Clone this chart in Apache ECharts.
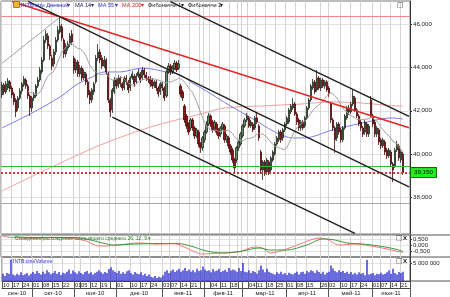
<!DOCTYPE html>
<html>
<head>
<meta charset="utf-8">
<script src="https://cdn.jsdelivr.net/npm/echarts@6.0.0/dist/echarts.min.js"></script>
<style>
html,body{margin:0;padding:0;background:#fff;}
#chart{width:450px;height:297px;}
</style>
</head>
<body>
<div id="chart"></div>
<script>
// ---------- values ----------
const opens = [
42730,43190,42870,43050,43330,43050,42770,42500,42130,42590,
42910,43190,43420,43140,42680,42130,42590,42680,43140,43420,
43790,44340,45260,45450,44990,44430,44160,44710,45260,45630,
45860,45260,44620,44890,45080,45540,44430,43880,44250,43700,
43970,43510,43700,43330,42870,42500,42870,43330,44430,44710,
44430,44060,44340,43700,42500,42040,42870,43420,43140,43510,
43240,43050,43510,43330,43050,43510,43600,43330,43600,43700,
43510,43880,43650,43510,43510,43420,43140,43330,43050,42870,
43240,43050,42680,43790,44060,43790,43970,44200,43970,43140,
42870,42220,41760,41390,41210,41580,41210,40840,41020,40470,
40290,40660,41020,41390,41760,41480,41210,41390,41120,40930,
41210,41300,40660,40750,40380,40190,39730,39730,40290,40470,
40840,41300,41580,41670,41300,41390,41210,41670,41300,40100,
39270,39640,39180,39640,39270,39730,40010,40470,40660,41020,
40750,41120,41390,41480,41950,42130,42310,41850,41580,41210,
41480,41300,41670,42130,42500,43050,43330,42960,43510,43050,
43420,43140,43330,43050,42310,41580,41210,40750,41390,41120,
40660,41210,41670,42130,41950,42310,42590,42040,41760,41480,
41210,41020,41390,40930,42500,41760,41480,40930,41120,40660,
40380,40560,40190,39920,40100,39550,39460,40190,40380,39730,
40010];
const closes = [
43190,42870,43240,43370,43010,42730,42410,41950,42590,42910,
43240,43470,43140,42680,42130,42590,42730,43140,43420,43880,
44340,45260,45540,44990,44530,44060,44710,45260,45720,45910,
45350,44620,44990,45080,45450,45170,43880,44250,43700,43970,
43510,43790,43330,42730,42500,42960,43240,44430,44710,44340,
44060,44340,43790,42500,41950,42960,43420,43140,43510,43240,
43050,43510,43330,42960,43510,43700,43240,43600,43790,43420,
43880,43650,43510,43420,43240,43140,43330,43050,42770,43240,
43050,42590,43790,44060,43790,43970,44200,43880,44160,42770,
42590,41580,41300,41020,41580,41210,40840,41120,40470,40290,
40750,41020,41390,41760,41390,41120,41480,41020,40840,41210,
41390,40660,40840,40380,40100,39730,39370,40290,40560,40930,
41300,41580,41760,41300,41480,41120,41670,41480,40750,39270,
39640,39180,39730,39180,39830,40100,40470,40750,41020,40660,
41120,41390,41670,42040,42220,42310,41850,41480,41210,41480,
41210,41670,42130,42500,43140,43330,42870,43510,43050,43420,
43140,43330,42960,42770,41580,41210,40660,41390,41020,40660,
41210,41760,42130,41950,42310,42680,42040,41760,41390,41210,
40930,41480,40930,41300,41760,41390,40930,41210,40560,40380,
40660,40100,39920,40190,39550,39270,40190,40470,39830,40100,
39150];
const lows = [
42590,42730,42770,42960,42870,42590,42270,41710,41990,42500,
42770,43100,43010,42540,41760,41950,42450,42590,43050,43330,
43700,44250,45120,44850,44340,43880,44020,44570,45170,45540,
45220,44430,44480,44760,44940,45030,43700,43740,43560,43560,
43370,43420,43190,42590,42310,42360,42730,43240,44300,44200,
43930,43970,43650,42360,41710,41900,42770,43010,43050,43100,
42910,42960,43190,42820,42910,43420,43100,43240,43510,43280,
43420,43510,43370,43280,43100,43010,43050,42910,42640,42730,
42910,42450,42590,43700,43650,43700,43880,43790,43880,42640,
42450,41440,41160,40890,41070,41070,40700,40750,40330,40060,
40150,40520,40930,41300,41250,40980,41070,40890,40700,40790,
41120,40520,40520,40240,39960,39600,39130,39600,40150,40380,
40750,41210,41480,41210,41210,41020,41120,41390,40610,39090,
38810,39000,39040,39040,39130,39640,39920,40380,40560,40520,
40610,41020,41300,41390,41850,42040,41760,41350,41070,41070,
41120,41210,41580,42040,42410,42960,42770,42870,42960,42910,
43050,43010,42870,42640,41440,41070,40060,40610,40890,40520,
40560,41120,41580,41810,41850,42220,41950,41670,41300,41070,
40790,40890,40790,40790,41670,41250,40790,40790,40420,40240,
40290,39960,39780,39830,39410,38720,39370,40100,39690,39600,
39040];
const highs = [
43330,43280,43370,43510,43420,43140,42870,42590,42680,43050,
43330,43600,43510,43240,42770,42680,42870,43240,43560,44020,
44480,45450,45720,45590,45080,44570,44850,45400,45910,46320,
46000,45350,45120,45220,45590,45720,44530,44390,44340,44110,
44060,43930,43790,43420,42960,43050,43330,44570,45080,44850,
44570,44530,44430,43790,42590,43050,43560,43510,43650,43600,
43330,43600,43650,43420,43600,43830,43700,43740,43930,43790,
44020,43970,43790,43600,43600,43510,43420,43420,43140,43330,
43330,43140,43880,44200,44160,44110,44340,44300,44340,43240,
42960,42310,41850,41480,41670,41670,41300,41210,41120,40560,
40840,41120,41530,41900,41850,41580,41580,41480,41210,41300,
41480,41390,40930,40840,40470,40290,39830,40380,40660,41020,
41390,41670,41900,41760,41580,41480,41760,41950,41390,40190,
39730,39730,39830,39730,39920,40190,40560,40840,41120,41120,
41210,41480,41760,42130,42310,42590,42410,41950,41670,41580,
41580,41760,42220,42590,43240,43470,43420,43880,43600,43510,
43510,43420,43420,43140,42410,41670,41300,41480,41480,41210,
41300,41850,42220,42270,42410,42960,42680,42130,41850,41580,
41300,41580,41480,41390,42680,41850,41580,41300,41210,40750,
40750,40660,40290,40290,40190,39640,40290,40610,40470,40190,
40100];
// volume, millions
const volumes = [
2.0,1.4,2.2,2.0,6.0,1.8,1.5,2.0,1.7,2.4,1.6,1.9,2.2,1.5,2.0,
2.5,2.0,2.8,2.2,1.8,2.6,2.0,3.0,2.4,1.9,2.2,2.8,2.0,2.5,1.7,2.3,
2.1,2.6,3.2,2.0,2.9,2.4,2.0,2.7,2.2,1.9,2.5,2.8,2.1,2.4,1.8,2.2,2.6,3.0,2.4,2.0,
2.5,2.2,3.3,3.8,3.0,2.6,2.2,2.8,2.0,2.4,
2.0,2.7,3.0,2.2,1.8,2.5,2.1,1.9,2.4,1.6,2.0,1.4,1.8,1.2,1.0,
1.4,0.8,1.2,1.0,1.6,
2.6,3.0,2.2,2.8,3.2,2.5,2.9,3.4,2.6,3.0,3.6,2.8,3.2,2.6,3.0,2.4,3.4,2.8,3.0,4.0,
3.2,2.8,3.0,2.4,3.3,2.7,2.9,3.4,2.5,2.8,3.1,2.6,3.6,2.9,3.2,
3.0,2.6,3.6,2.8,5.0,2.6,2.4,3.0,2.2,2.8,2.5,2.0,3.0,4.3,3.2,
2.4,3.4,2.6,2.2,2.0,1.8,2.4,2.0,2.6,1.9,2.2,1.7,2.3,2.0,1.8,
2.2,2.6,1.8,2.4,2.6,2.0,2.8,2.4,3.0,2.7,2.2,3.0,2.5,2.0,2.6,
1.8,2.3,2.6,4.3,3.5,2.8,2.4,3.0,2.5,2.8,2.2,2.6,2.0,2.5,1.9,
2.2,1.8,2.4,2.0,2.2,1.6,5.8,1.8,2.0,2.2,1.6,2.0,1.9,2.3,1.8,
2.0,2.4,3.0,2.0,3.4,2.2,1.8,2.5,2.2,2.6];
// moving averages read at points: [day index, price]
const ma55Points = [[0,41210],[15,41900],[29,42640],[37,43190],[45,43560],[51,43790],[59,43790],[70,43970],[82,43790],[89,43650],[95,43280],[101,42960],[114,42220],[126,41580],[136,41030],[145,40750],[151,40750],[165,41120],[182,41480],[194,41670],[200,41620]];
const ma200Points = [[0,38310],[24,39370],[49,40420],[74,41250],[99,41850],[111,42130],[129,42220],[149,42310],[164,42410],[179,42360],[199,42220],[200,42220]];
// MACD panel (read at points)
const macdPoints = [[0,0.75],[5,0.62],[15,0.58],[25,0.62],[34,0.58],[42,0.33],[48,-0.08],[52,-0.08],[58,0],[68,0.17],[78,0.08],[86,0.12],[92,-0.25],[100,-0.75],[108,-0.67],[118,-0.58],[126,-0.17],[130,-0.25],[134,-0.67],[142,-0.33],[150,0.17],[158,0.58],[162,0.5],[168,0],[176,0.08],[184,-0.08],[192,-0.33],[200,-0.62]];
const signalPoints = [[6,0.67],[15,0.62],[25,0.62],[36,0.62],[44,0.42],[50,0.17],[56,0],[66,0.08],[78,0.12],[88,0.12],[94,-0.08],[102,-0.5],[110,-0.67],[120,-0.5],[128,-0.25],[134,-0.42],[142,-0.42],[152,0],[160,0.5],[166,0.42],[172,0.17],[180,0.08],[188,-0.08],[196,-0.33],[200,-0.54]];
// drawn lines: [day index, price]
const channelMid = [[13,47040],[203,38490]];
const channelLow = [[55,41710],[176,36350]];
const channelUp = [[84,47030],[203,41740]];
const trendRed = [[5,47040],[203,41220]];
const fibLine = [[0,44190],[29,46320]];
const levelRed = 46370, levelGreen = 39460, levelGray = 37750, lastPrice = 39150;
// ticks
const priceTicks = [38000,40000,42000,44000,46000];
const macdTicks = [-0.5,0,0.5];
const volumeTicks = [5];
const dayLabels = ['2010-09-10','2010-09-17','2010-09-24','2010-10-01','2010-10-08','2010-10-15','2010-10-22',
 '2010-11-01','2010-11-05','2010-11-12','2010-11-19','2010-12-01','2010-12-10','2010-12-17','2010-12-24',
 '2011-01-03','2011-01-07','2011-01-14','2011-01-21','2011-02-04','2011-02-11','2011-02-18',
 '2011-03-04','2011-03-11','2011-03-18','2011-03-25','2011-04-01','2011-04-08','2011-04-15','2011-04-26',
 '2011-05-02','2011-05-10','2011-05-17','2011-05-24','2011-06-01','2011-06-07','2011-06-14','2011-06-21'];
const extraWeeks = ['2010-11-26','2011-01-28','2011-02-25'];
const monthNames = ['сен-10','окт-10','ноя-10','дек-10','янв-11','фев-11','мар-11','апр-11','май-11','июн-11'];
const holidays = ['2010-11-04','2011-02-23','2011-03-08'];

// ---------- categories (trading days) ----------
const dates = [];
(function(){
  const d = new Date(Date.UTC(2010, 8, 10));
  while (dates.length < opens.length + 3) {
    const wd = d.getUTCDay();
    const s = d.toISOString().slice(0,10);
    if (wd !== 0 && wd !== 6 && holidays.indexOf(s) < 0) dates.push(s);
    d.setUTCDate(d.getUTCDate() + 1);
  }
})();
const monthStartIdx = new Set(), monthMid = {};
(function(){
  const st = {}, en = {}, keys = [];
  dates.forEach((d,i)=>{const k=d.slice(0,7); if(!(k in st)){st[k]=i;keys.push(k);} en[k]=i;});
  keys.forEach((k,j)=>{ if (j>0) monthStartIdx.add(st[k]); monthMid[Math.round((st[k]+en[k])/2)] = monthNames[j]; });
})();
const labelIdx = new Set(dayLabels.map(d=>dates.indexOf(d)));
const cellIdx = new Set([...labelIdx, ...extraWeeks.map(d=>dates.indexOf(d)), ...monthStartIdx]);

const candles = opens.map((o,i)=>[o, closes[i], lows[i], highs[i]]);
const ma14 = closes.map((c,i)=>{ if(i<13) return '-'; let s=0; for(let k=i-13;k<=i;k++) s+=closes[k]; return +(s/14).toFixed(1); });

const FONT = 'Liberation Sans, Arial, sans-serif';
const fmtPrice = v => Math.round(v).toLocaleString('en-US');
const fmtMacd = v => v.toFixed(3).replace('.', ',');

const vSplit = {show:true, interval:(i)=>cellIdx.has(i), lineStyle:{color:'#d3d3d3', width:1}};
function xCat(g, extra){ return Object.assign({type:'category', gridIndex:g, data:dates, boundaryGap:true,
  axisLine:{show:false}, axisTick:{show:false}, axisLabel:{show:false}, splitLine:vSplit}, extra||{}); }

const chart = echarts.init(document.getElementById('chart'), null, {renderer:'canvas'});
const lineSeries = (name, data, color, width, extra) => Object.assign({name, type:'line', xAxisIndex:0, yAxisIndex:0, data,
  showSymbol:false, symbol:'none', lineStyle:{color, width}, silent:true, z:4}, extra||{});

chart.setOption({
  animation:false,
  backgroundColor:'#ffffff',
  textStyle:{fontFamily:FONT},
  grid:[
    {left:1, right:40, top:1, height:233, show:true, borderColor:'#777', borderWidth:1, backgroundColor:'#fff'},
    {left:1, right:40, top:235, height:22, show:true, borderColor:'#666', borderWidth:1},
    {left:1, right:40, top:257, height:24, show:true, borderColor:'#666', borderWidth:1}
  ],
  xAxis:[
    xCat(0),
    xCat(1),
    xCat(2, {axisLine:{show:true, lineStyle:{color:'#444'}},
      axisTick:{show:true, interval:(i)=>cellIdx.has(i), length:7, lineStyle:{color:'#555'}},
      axisLabel:{show:true, interval:(i)=>labelIdx.has(i), formatter:(v)=>v.slice(8,10), align:'left', margin:1.5,
        fontSize:5.8, color:'#222', fontFamily:FONT}}),
    {type:'category', gridIndex:2, data:dates, position:'bottom', offset:7, boundaryGap:true,
      axisLine:{show:true, lineStyle:{color:'#444'}},
      axisTick:{show:true, interval:(i)=>monthStartIdx.has(i), length:10, lineStyle:{color:'#555'}},
      axisLabel:{show:true, interval:(i)=>(i in monthMid), formatter:(v,i)=>monthMid[i]||'', margin:2,
        fontSize:6, color:'#222', fontFamily:FONT},
      splitLine:{show:false}}
  ],
  yAxis:[
    {type:'value', gridIndex:0, position:'right', min:36320, max:47060, scale:true,
      axisLine:{show:true, lineStyle:{color:'#333'}},
      axisTick:{show:true, length:2, customValues:priceTicks, lineStyle:{color:'#333'}},
      axisLabel:{customValues:priceTicks, formatter:fmtPrice, fontSize:6.2, color:'#222', margin:3, fontFamily:FONT},
      splitLine:{show:true, lineStyle:{color:'#e0e0e0'}}},
    {type:'value', gridIndex:1, position:'right', min:-1, max:0.8333, interval:0.5,
      axisLine:{show:true, lineStyle:{color:'#333'}},
      axisTick:{show:true, length:2, customValues:macdTicks, lineStyle:{color:'#333'}},
      axisLabel:{customValues:macdTicks, formatter:fmtMacd, fontSize:6, color:'#222', margin:3, fontFamily:FONT},
      splitLine:{show:true, lineStyle:{color:'#e4e4e4'}}},
    {type:'value', gridIndex:2, position:'right', min:0, max:6.667,
      axisLine:{show:true, lineStyle:{color:'#333'}},
      axisTick:{show:true, length:2, customValues:volumeTicks, lineStyle:{color:'#333'}},
      axisLabel:{customValues:volumeTicks, formatter:(v)=>(v*1e6).toLocaleString('en-US').replace(/,/g,' '), fontSize:6, color:'#222', margin:3, fontFamily:FONT},
      splitLine:{show:true, lineStyle:{color:'#e4e4e4'}}}
  ],
  series:[
    lineSeries('MA 200', ma200Points, '#f2a0a0', 1, {smooth:0.3, z:1}),
    lineSeries('MA 55', ma55Points, '#7d7dec', 1, {smooth:0.3, z:1}),
    {name:'INTB:ctru', type:'candlestick', xAxisIndex:0, yAxisIndex:0, data:candles, barWidth:1.7, z:2,
      itemStyle:{color:'#6a8a6a', color0:'#8e1414', borderColor:'#1c2a1c', borderColor0:'#4a0606', borderWidth:0.8},
      markLine:{silent:true, symbol:'none', animation:false, label:{show:false}, z:3,
        data:[
          {yAxis:levelRed, lineStyle:{color:'#f08a8a', width:1, type:'solid'}},
          {yAxis:levelGreen, lineStyle:{color:'#3cb43c', width:1, type:'solid'}},
          {yAxis:levelGray, lineStyle:{color:'#a8a8a8', width:1, type:'solid'}},
          {yAxis:lastPrice, lineStyle:{color:'#e23434', width:2, type:'dotted'},
            label:{show:true, position:'end', distance:1, formatter:()=>fmtPrice(lastPrice), fontSize:6.2, color:'#000',
              backgroundColor:'#22ee22', borderColor:'#0a6a0a', borderWidth:1, padding:[2,3,1,3], fontFamily:FONT}}
        ]}},
    lineSeries('MA 14', ma14, '#a0a0a0', 1, {z:3}),
    lineSeries('Фибоначчи 1', fibLine, '#a0a0a0', 1),
    lineSeries('trend', trendRed, '#e02828', 1.6),
    lineSeries('ch-up', channelUp, '#222', 1.5),
    lineSeries('ch-mid', channelMid, '#222', 1.5),
    lineSeries('ch-low', channelLow, '#222', 1.5),
    {name:'MACD', type:'line', xAxisIndex:1, yAxisIndex:1, data:macdPoints, smooth:0.3, showSymbol:false, symbol:'none',
      lineStyle:{color:'#f07878', width:1}},
    {name:'Signal', type:'line', xAxisIndex:1, yAxisIndex:1, data:signalPoints, smooth:0.3, showSymbol:false, symbol:'none',
      lineStyle:{color:'#3d9a3d', width:1}},
    {name:'Volume', type:'bar', xAxisIndex:2, yAxisIndex:2, data:volumes, barWidth:1.5,
      itemStyle:{color:'#3b3bd2'}}
  ],
  graphic:[
    {type:'rect', shape:{x:13.5, y:1.5, width:6, height:6}, style:{fill:'#f5b23c', stroke:'#9a6400', lineWidth:0.8}, z:50},
    {type:'text', x:21, y:5, z:50, style:{text:'INTB:ctru Дневной', fill:'#2b2bc8', font:'5.6px '+FONT, textVerticalAlign:'middle'}},
    {type:'text', x:67, y:5, z:50, style:{text:'▾', fill:'#2b2bc8', font:'6px DejaVu Sans', textVerticalAlign:'middle'}},
    {type:'text', x:75, y:5, z:50, style:{text:'MA 14', fill:'#23235a', font:'5.6px '+FONT, textVerticalAlign:'middle'}},
    {type:'text', x:91, y:5, z:50, style:{text:'▾', fill:'#23235a', font:'6px DejaVu Sans', textVerticalAlign:'middle'}},
    {type:'text', x:98, y:5, z:50, style:{text:'MA 55', fill:'#3030d8', font:'5.6px '+FONT, textVerticalAlign:'middle'}},
    {type:'text', x:115, y:5, z:50, style:{text:'▾', fill:'#3030d8', font:'6px DejaVu Sans', textVerticalAlign:'middle'}},
    {type:'text', x:122, y:5, z:50, style:{text:'MA 200', fill:'#d82020', font:'5.6px '+FONT, textVerticalAlign:'middle'}},
    {type:'text', x:141, y:5, z:50, style:{text:'▾', fill:'#d82020', font:'6px DejaVu Sans', textVerticalAlign:'middle'}},
    {type:'text', x:148, y:5, z:50, style:{text:'Фибоначчи 1', fill:'#222', font:'5.6px '+FONT, textVerticalAlign:'middle'}},
    {type:'text', x:181, y:5, z:50, style:{text:'▾', fill:'#222', font:'6px DejaVu Sans', textVerticalAlign:'middle'}},
    {type:'text', x:188, y:5, z:50, style:{text:'Фибоначчи 2', fill:'#222', font:'5.6px '+FONT, textVerticalAlign:'middle'}},
    {type:'text', x:220, y:5, z:50, style:{text:'▾', fill:'#222', font:'6px DejaVu Sans', textVerticalAlign:'middle'}},
    {type:'text', x:397, y:5, z:50, style:{text:'□', fill:'#333', font:'7px DejaVu Sans', textVerticalAlign:'middle'}},
    {type:'text', x:15, y:238.5, z:50, style:{text:'Схождение/расхождение скользящего среднего 26; 12; 9 ▾', fill:'#2f7d2f', font:'5px '+FONT, textVerticalAlign:'middle'}},
    {type:'text', x:396, y:238.5, z:50, style:{text:'□', fill:'#333', font:'7px DejaVu Sans', textVerticalAlign:'middle'}},
    {type:'text', x:403, y:238.5, z:50, style:{text:'X', fill:'#111', font:'bold 6px '+FONT, textVerticalAlign:'middle'}},
    {type:'text', x:13, y:262, z:50, style:{text:'INTB:ctru/Volume', fill:'#2b2bc8', font:'5px '+FONT, textVerticalAlign:'middle'}},
    {type:'text', x:396, y:261, z:50, style:{text:'□', fill:'#333', font:'7px DejaVu Sans', textVerticalAlign:'middle'}},
    {type:'text', x:403, y:261, z:50, style:{text:'X', fill:'#111', font:'bold 6px '+FONT, textVerticalAlign:'middle'}},
    {type:'line', shape:{x1:410, y1:235, x2:450, y2:235}, style:{stroke:'#555', lineWidth:1}, z:50},
    {type:'line', shape:{x1:410, y1:257, x2:450, y2:257}, style:{stroke:'#555', lineWidth:1}, z:50},
    {type:'line', shape:{x1:410, y1:281, x2:450, y2:281}, style:{stroke:'#555', lineWidth:1}, z:50},
    {type:'line', shape:{x1:410.5, y1:281, x2:410.5, y2:297}, style:{stroke:'#555', lineWidth:1}, z:50}
  ]
});
</script>
</body>
</html>
